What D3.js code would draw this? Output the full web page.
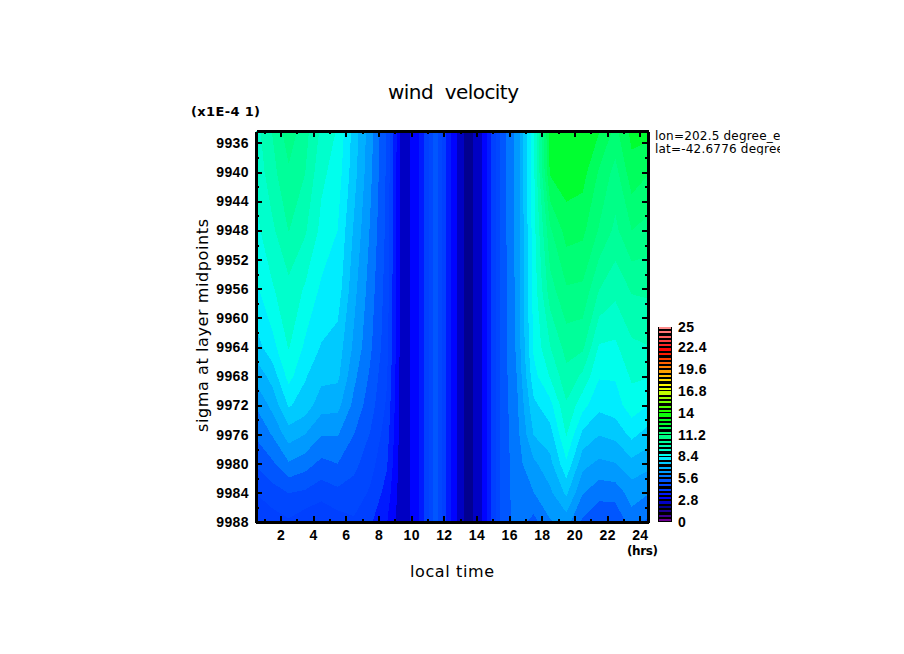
<!DOCTYPE html>
<html lang="en">
<head>
  <meta charset="UTF-8">
  <title>wind velocity</title>
  <script src="https://d3js.org/d3.v7.min.js"></script>
  <style>
    body { margin: 0; background: #fff; }
    svg { display: block; }
    text { fill: #000; }
    .tick-label { font-family: "Liberation Sans", sans-serif; font-weight: bold; font-size: 14px; letter-spacing: 0.4px; }
    .axis path, .axis line { stroke: #000; shape-rendering: crispEdges; }
    .axis .domain { stroke-width: 3px; }
    .axis line { stroke-width: 2px; }
    .axis text { font-family: "Liberation Sans", sans-serif; font-weight: bold; font-size: 14px; letter-spacing: 0.4px; }
    .label { font-family: "DejaVu Sans", sans-serif; }
  </style>
</head>
<body>
  <svg width="904" height="654"></svg>

  <script>
    // sigma levels (x1E-4) and local time of each grid point
    const sigmaLevels = [9934.36, 9940, 9948, 9956, 9964, 9968, 9972, 9976, 9980, 9984, 9988];
    const hours = [0.5, 1.5, 2.5, 3.5, 4.5, 5.5, 6.5, 7.5, 8.5, 9.5, 10.5, 11.5, 12.5,
                   13.5, 14.5, 15.5, 16.5, 17.5, 18.5, 19.5, 20.5, 21.5, 22.5, 23.5, 24.5];

    // wind speed per local time column, top level first
    const h00 = [9.3, 9.1, 8.8, 8.3, 7.6, 6.9, 6.2, 5.7, 5.1, 4.5, 4.0];
    const h01 = [10.1, 9.9, 9.4, 8.9, 8.2, 7.5, 6.9, 6.2, 5.5, 4.8, 4.2];
    const h02 = [11.0, 10.55, 10.1, 9.35, 9.0, 8.6, 7.9, 7.0, 6.1, 5.05, 4.4];
    const h03 = [10.3, 10.1, 9.6, 8.9, 8.3, 7.9, 7.6, 6.72, 5.85, 4.95, 4.1];
    const h04 = [9.4, 9.1, 8.8, 8.3, 7.8, 7.45, 6.95, 6.2, 5.45, 4.7, 3.95];
    const h05 = [8.9, 8.7, 8.4, 8.15, 7.6, 7.4, 6.9, 6.2, 5.6, 4.9, 4.2];
    const h06 = [7.6, 7.5, 7.2, 6.9, 6.6, 6.3, 6.0, 5.6, 5.2, 4.8, 4.4];
    const h07 = [6.4, 6.3, 6.1, 5.9, 5.7, 5.5, 5.3, 5.0, 4.7, 4.4, 4.0];
    const h08 = [5.0, 4.95, 4.9, 4.8, 4.7, 4.55, 4.4, 4.2, 4.0, 3.7, 3.4];
    const h09 = [2.3, 2.3, 2.3, 2.3, 2.3, 2.3, 2.3, 2.3, 2.3, 2.3, 2.3];
    const h10 = [3.4, 3.4, 3.4, 3.4, 3.4, 3.4, 3.4, 3.4, 3.4, 3.4, 3.4];
    const h11 = [5.3, 5.3, 5.3, 5.3, 5.3, 5.3, 5.3, 5.3, 5.3, 5.3, 5.3];
    const h12 = [3.2, 3.2, 3.2, 3.2, 3.2, 3.2, 3.2, 3.2, 3.2, 3.2, 3.2];
    const h13 = [1.9, 1.9, 1.9, 1.9, 1.9, 1.9, 1.9, 1.9, 1.9, 1.9, 1.9];
    const h14 = [3.0, 3.0, 3.0, 3.0, 3.0, 3.0, 3.0, 3.0, 3.0, 3.0, 3.0];
    const h15 = [5.2, 5.2, 5.2, 5.2, 5.2, 5.2, 5.2, 5.2, 5.2, 5.2, 5.2];
    const h16 = [6.4, 6.4, 6.4, 6.35, 6.3, 6.2, 6.1, 6.0, 5.95, 5.9, 5.85];
    const h17 = [8.8, 8.8, 8.7, 8.6, 8.5, 8.2, 7.7, 7.3, 6.6, 6.15, 5.4];
    const h18 = [12.6, 12.4, 11.1, 10.4, 9.5, 9.0, 8.2, 7.6, 7.1, 6.6, 6.1];
    const h19 = [12.85, 12.65, 12.0, 11.15, 10.3, 9.9, 9.45, 9.0, 8.3, 7.4, 6.4];
    const h20 = [12.8, 12.55, 11.9, 11.1, 10.2, 9.4, 8.6, 7.7, 6.9, 6.2, 5.5];
    const h21 = [12.35, 11.7, 11.15, 10.1, 8.9, 8.45, 8.0, 7.3, 6.6, 5.8, 5.1];
    const h22 = [11.6, 11.0, 10.5, 9.7, 8.85, 8.45, 8.15, 7.45, 6.7, 5.85, 5.1];
    const h23 = [12.5, 12.1, 11.2, 10.15, 9.4, 9.05, 8.7, 8.0, 7.1, 6.4, 5.9];
    const h24 = [12.5, 11.8, 11.0, 10.2, 9.5, 9.0, 8.4, 7.6, 6.9, 6.2, 5.5];
    const columns = [h00, h01, h02, h03, h04, h05, h06, h07, h08, h09, h10, h11, h12,
                     h13, h14, h15, h16, h17, h18, h19, h20, h21, h22, h23, h24];

    const xTicks = [2, 4, 6, 8, 10, 12, 14, 16, 18, 20, 22, 24];
    const yTicks = [9936, 9940, 9944, 9948, 9952, 9956, 9960, 9964, 9968, 9972, 9976, 9980, 9984, 9988];
    const barLabels = [0, 2.8, 5.6, 8.4, 11.2, 14, 16.8, 19.6, 22.4, 25];
    const colorStops = [0, 0.5, 1, 2, 2.5, 3, 3.5, 4.2, 4.8, 5.4, 6.4, 7.4, 8.4, 9, 9.5, 10, 10.6, 11.2, 12, 12.6, 14,
                        15.5, 16.8, 17.5, 19.3, 20.5, 22, 23.5, 25];
    const colorValues = ["#800090", "#600090", "#300090", "#000090", "#0000c0", "#0000ff", "#0010ff", "#0040ff",
                         "#0048ff", "#0058ff", "#0098ff", "#00c0ff", "#00ffff", "#00ffd8", "#00ffc0", "#00ffa8",
                         "#00ff90", "#00ff80", "#00ff60", "#00ff30", "#10ff00", "#80ff00", "#d0ff00", "#ffff00",
                         "#ffa000", "#ff6000", "#ff0000", "#ff5050", "#ff9090"];
    const step = 0.56;

    const svg = d3.select("svg");
    const x = d3.scaleLinear().domain([0.5, 24.5]).range([256, 648]);
    const y = d3.scaleLinear().domain([9934.36, 9988]).range([131, 522]);
    const color = d3.scaleLinear().domain(colorStops).range(colorValues);
    const thresholds = d3.range(0, 25, step);

    const nx = hours.length, ny = sigmaLevels.length;
    const values = [];
    for (let j = 0; j < ny; j++) columns.forEach(c => values.push(c[j]));

    // grid index -> data value, the rows are not evenly spaced
    const hourAt = d3.scaleLinear().domain(d3.range(nx)).range(hours).clamp(true);
    const sigmaAt = d3.scaleLinear().domain(d3.range(ny)).range(sigmaLevels).clamp(true);
    const gridPath = d3.geoPath(d3.geoTransform({
      point(cx, cy) {
        this.stream.point(x(hourAt(cx - 0.5)), y(sigmaAt(cy - 0.5)));
      }
    }));

    const contours = d3.contours().size([nx, ny]).smooth(true).thresholds(thresholds)(values);

    // Filled bands
    svg.append("g").selectAll("path")
      .data(contours)
      .enter().append("path")
      .attr("d", gridPath)
      .attr("fill", d => color(d.value + step / 2))
      .attr("shape-rendering", "crispEdges");

    // Axes, ticks point inward on all four sides
    const minorX = d3.range(1, 25), minorY = d3.range(9936, 9989, 2);
    const addAxis = (axis, minor, major, transform, labelled) => {
      const gMinor = svg.append("g").attr("class", "axis").attr("transform", transform)
        .call(axis.tickValues(minor).tickSize(-3).tickFormat(""));
      gMinor.select(".domain").remove();
      const g = svg.append("g").attr("class", "axis").attr("transform", transform)
        .call(axis.tickValues(major).tickSize(-6).tickSizeOuter(0).tickFormat(labelled ? d3.format("d") : ""));
      return g;
    };
    addAxis(d3.axisBottom(x), minorX, xTicks, "translate(0,522)", true)
      .selectAll("text").attr("dy", "1.05em");
    addAxis(d3.axisTop(x), minorX, xTicks, "translate(0,131)", false);
    addAxis(d3.axisLeft(y), minorY, yTicks, "translate(256,0)", true)
      .selectAll("text").attr("x", -7);
    addAxis(d3.axisRight(y), minorY, yTicks, "translate(648,0)", false);

    // Tone bar
    const barY = d3.scaleLinear().domain([0, 25]).range([522, 327]);
    const wide = (d, i) => i % 5 === 4 && d < 24;
    const bar = svg.append("g").attr("shape-rendering", "crispEdges");
    bar.append("rect").attr("x", 658).attr("y", barY(25)).attr("width", 14).attr("height", barY(0) - barY(25)).attr("fill", "#000");
    bar.selectAll(".band")
      .data(thresholds)
      .enter().append("rect")
      .attr("class", "band")
      .attr("x", 659)
      .attr("width", 12)
      .attr("y", (d, i) => barY(d + step) + (wide(d, i) ? 0.5 : 1.5))
      .attr("height", (d, i) => wide(d, i) ? 3.5 : 2)
      .attr("fill", d => color(d + step / 2));
    svg.selectAll(".bar-label")
      .data(barLabels)
      .enter().append("text")
      .attr("class", "tick-label bar-label")
      .attr("x", 678)
      .attr("y", d => barY(d) + 5)
      .text(d => d);

    // Titles and notes
    svg.append("text").attr("class", "label").attr("x", 388).attr("y", 99)
      .attr("font-size", 20).attr("textLength", 131).text("wind  velocity").attr("xml:space", "preserve");
    svg.append("text").attr("class", "label").attr("x", 191).attr("y", 116)
      .attr("font-size", 13).attr("font-weight", "bold").attr("textLength", 69).text("(x1E-4 1)");
    svg.append("text").attr("class", "label").attr("x", 410).attr("y", 577)
      .attr("font-size", 16).attr("textLength", 84).text("local time");
    svg.append("text").attr("class", "label")
      .attr("transform", "translate(208,432) rotate(-90)")
      .attr("font-size", 16).attr("textLength", 213).text("sigma at layer midpoints");
    svg.append("text").attr("class", "label").attr("x", 627).attr("y", 555)
      .attr("font-size", 12).attr("font-weight", "bold").attr("textLength", 31).text("(hrs)");

    svg.append("clipPath").attr("id", "note-clip").append("rect")
      .attr("x", 650).attr("y", 125).attr("width", 130).attr("height", 30);
    const note = svg.append("g").attr("clip-path", "url(#note-clip)");
    note.append("text").attr("class", "label").attr("x", 655).attr("y", 140)
      .attr("font-size", 12).attr("letter-spacing", 0.2).text("lon=202.5 degree_east");
    note.append("text").attr("class", "label").attr("x", 655).attr("y", 153)
      .attr("font-size", 12).attr("letter-spacing", 0.2).text("lat=-42.6776 degree_north");
  </script>
</body>
</html>
